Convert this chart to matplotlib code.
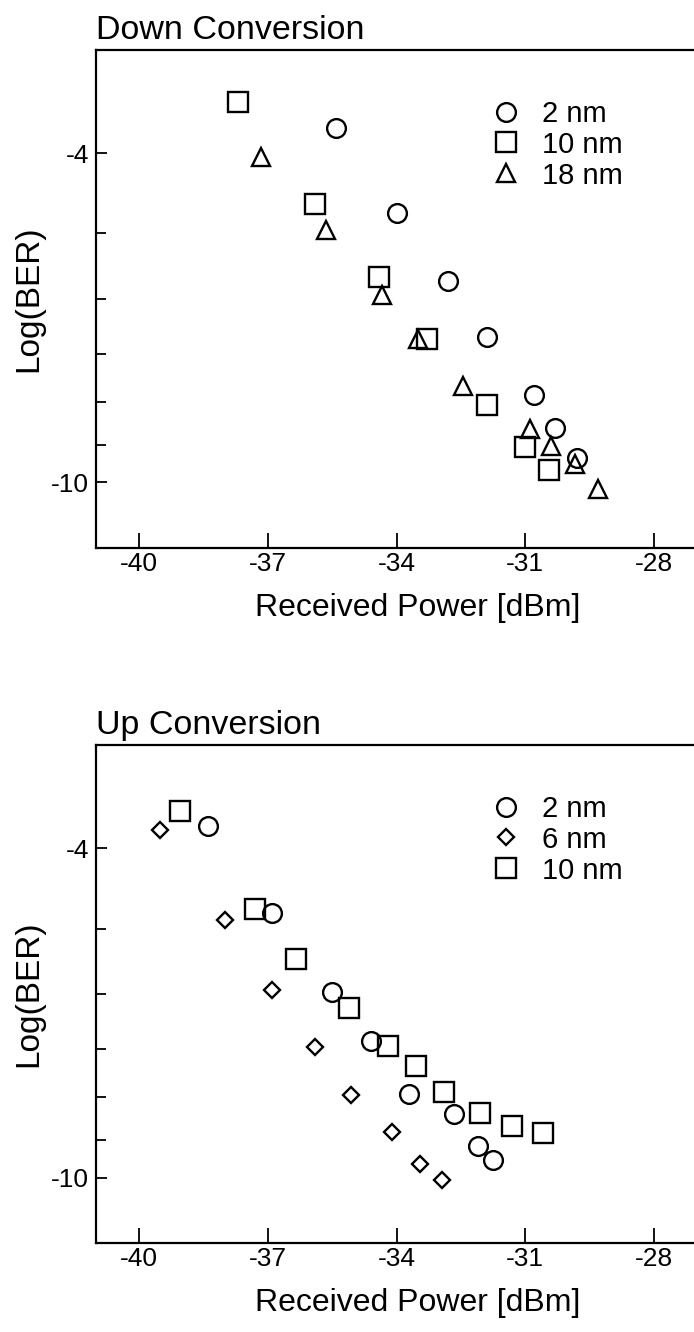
"""Two-panel BER scatter: down / up conversion, Log(BER) vs received power."""

import numpy as np
import matplotlib

matplotlib.use("Agg")
import matplotlib.pyplot as plt
from matplotlib.ticker import NullFormatter

plt.rcParams["font.family"] = ["Liberation Sans", "DejaVu Sans"]
plt.rcParams["axes.unicode_minus"] = False

# --- Down conversion ---
DOWN_X_2NM = [-35.4, -34.0, -32.8, -31.9, -30.8, -30.3, -29.8]
DOWN_Y_2NM = [-3.73, -4.72, -5.70, -6.67, -7.83, -8.60, -9.33]
DOWN_X_10NM = [-37.7, -35.9, -34.4, -33.3, -31.9, -31.0, -30.45]
DOWN_Y_10NM = [-3.47, -4.60, -5.65, -6.70, -8.05, -9.05, -9.65]
DOWN_X_18NM = [-37.15, -35.65, -34.35, -33.5, -32.45, -30.9, -30.4, -29.85, -29.3]
DOWN_Y_18NM = [-4.04, -4.95, -5.93, -6.70, -7.65, -8.62, -9.04, -9.51, -10.19]

# --- Up conversion ---
UP_X_2NM = [-38.4, -36.9, -35.5, -34.6, -33.7, -32.65, -32.1, -31.75]
UP_Y_2NM = [-3.76, -4.79, -5.97, -6.83, -7.93, -8.37, -9.15, -9.52]
UP_X_6NM = [-39.5, -38.0, -36.9, -35.9, -35.05, -34.1, -33.45, -32.95]
UP_Y_6NM = [-3.80, -4.88, -5.93, -6.96, -7.94, -8.82, -9.62, -10.07]
UP_X_10NM = [-39.05, -37.3, -36.35, -35.1, -34.2, -33.55, -32.9, -32.05, -31.3, -30.6]
UP_Y_10NM = [-3.61, -4.74, -5.45, -6.23, -6.93, -7.34, -7.88, -8.35, -8.67, -8.84]

X_TICKS = [-40, -37, -34, -31, -28]
X_TICKLABELS = ["-40", "-37", "-34", "-31", "-28"]
Y_MAJOR = [-4, -10]
Y_MAJOR_LABELS = ["-4", "-10"]
Y_MINOR = [-5, -6, -7, -8, -9]


def _fwd(y):
    # BER-paper style axis: log(-log BER)
    y = np.asarray(y, dtype=float)
    with np.errstate(divide="ignore", invalid="ignore"):
        return -np.log10(-y)


def _inv(z):
    return -np.power(10.0, -np.asarray(z, dtype=float))


def _panel(fig, rect, title, series):
    ax = fig.add_axes(rect)
    for x, y, marker, ms, label in series:
        ax.plot(x, y, linestyle="none", marker=marker, markersize=ms,
                markerfacecolor="none", markeredgecolor="black",
                markeredgewidth=1.7, label=label)

    ax.set_yscale("function", functions=(_fwd, _inv))
    # the right-hand part of the frame (out to -26) is cropped off the page
    ax.set_xlim(-41, -26)
    ax.set_ylim(-12, -3)

    ax.set_xticks(X_TICKS)
    ax.set_xticklabels(X_TICKLABELS)
    ax.set_yticks(Y_MAJOR)
    ax.set_yticklabels(Y_MAJOR_LABELS)
    ax.set_yticks(Y_MINOR, minor=True)
    ax.yaxis.set_minor_formatter(NullFormatter())

    ax.tick_params(axis="x", which="major", direction="in", length=11, width=1.3,
                   pad=3, labelsize=19, top=False)
    ax.tick_params(axis="y", which="major", direction="in", length=8, width=1.3,
                   pad=5, labelsize=19, right=False)
    ax.tick_params(axis="y", which="minor", direction="in", length=7, width=1.3,
                   right=False)

    for side in ("left", "bottom", "top"):
        ax.spines[side].set_linewidth(1.6)
    ax.spines["right"].set_visible(False)

    ax.set_title(title, loc="left", fontsize=24.5, pad=8)
    ax.set_xlabel("Received Power [dBm]", fontsize=23, labelpad=12)
    ax.set_ylabel("Log(BER)", fontsize=24)
    ax.yaxis.set_label_coords(-0.08, 0.5)

    ax.legend(loc="upper left", bbox_to_anchor=(0.614, 0.9), frameon=False,
              fontsize=21, handlelength=1.0, handletextpad=0.75,
              labelspacing=0.1, borderpad=0, borderaxespad=0)
    return ax


def main():
    fig = plt.figure(figsize=(6.94, 13.32), dpi=100)

    left, width, height = 0.1383, 0.928, 0.3739
    _panel(fig, [left, 0.5886, width, height], "Down Conversion", [
        (DOWN_X_2NM, DOWN_Y_2NM, "o", 13.5, "2 nm"),
        (DOWN_X_10NM, DOWN_Y_10NM, "s", 14, "10 nm"),
        (DOWN_X_18NM, DOWN_Y_18NM, "^", 13, "18 nm"),
    ])
    _panel(fig, [left, 0.0668, width, height], "Up Conversion", [
        (UP_X_2NM, UP_Y_2NM, "o", 13.5, "2 nm"),
        (UP_X_6NM, UP_Y_6NM, "D", 8.5, "6 nm"),
        (UP_X_10NM, UP_Y_10NM, "s", 14, "10 nm"),
    ])

    fig.savefig("out.png", dpi=100)
    plt.close(fig)


if __name__ == "__main__":
    main()
